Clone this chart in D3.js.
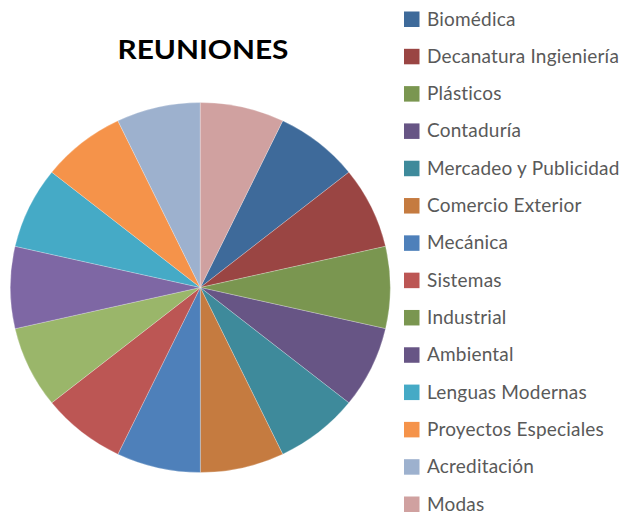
<!DOCTYPE html>
<html>
<head>
<meta charset="utf-8">
<script src="https://cdn.jsdelivr.net/npm/d3@7"></script>
<style>
  body { margin: 0; background: #fff; }
  svg { display: block; }
</style>
</head>
<body>
<div class="chart"></div>
<script>
// data
const categories = ["Biomédica", "Decanatura Ingieniería", "Plásticos", "Contaduría",
  "Mercadeo y Publicidad", "Comercio Exterior", "Mecánica", "Sistemas", "Industrial",
  "Ambiental", "Lenguas Modernas", "Proyectos Especiales", "Acreditación", "Modas"];
const values = [1, 1, 1, 1, 1, 1, 1, 1, 1, 1, 1, 1, 1, 1];
const title = "REUNIONES";

const sliceColors = ["#3E6A9A", "#9A4543", "#7A9650", "#675585", "#3E8A9B", "#C57B40",
  "#4E80BA", "#BC5654", "#9AB66A", "#7E67A4", "#45AAC6", "#F5934A", "#9DB1CE", "#D0A1A0"];
const legendColors = ["#3E6A9A", "#9A4543", "#7A9650", "#675585", "#3E8A9B", "#C57B40",
  "#4E80BA", "#BC5654", "#7A9650", "#675585", "#45AAC6", "#F5934A", "#9DB1CE", "#D0A1A0"];

const width = 628, height = 514;
const cx = 200.3, cy = 287.5;
const rx = 190, ry = 185;

const svg = d3.select(".chart").append("svg")
  .attr("width", width)
  .attr("height", height);

svg.append("text")
  .attr("x", 203)
  .attr("y", 58.5)
  .attr("text-anchor", "middle")
  .attr("textLength", 171)
  .attr("lengthAdjust", "spacingAndGlyphs")
  .style("font-family", "Lato, 'Open Sans', sans-serif")
  .style("font-weight", "bold")
  .style("font-size", "26.5px")
  .style("fill", "#000")
  .text(title);

// Excel starts this pie one slice in, so Modas ends up at 12 o'clock
const step = 2 * Math.PI / values.length;
const pie = d3.pie().sort(null).value(d => d)
  .startAngle(step).endAngle(2 * Math.PI + step);

const arc = d3.arc().innerRadius(0).outerRadius(rx);

const g = svg.append("g")
  .attr("transform", `translate(${cx},${cy}) scale(1,${ry / rx})`);

g.selectAll("path")
  .data(pie(values))
  .enter()
  .append("path")
  .attr("d", arc)
  .attr("fill", (d, i) => sliceColors[i])
  .attr("stroke", "#fff")
  .attr("stroke-width", 0.4)
  .attr("stroke-opacity", 0.6);

const ly = d3.scalePoint().domain(categories).range([19, 504]);

const legend = svg.append("g");
const item = legend.selectAll("g")
  .data(categories)
  .enter()
  .append("g")
  .attr("transform", d => `translate(0,${ly(d)})`);

item.append("rect")
  .attr("x", 404)
  .attr("y", -7.5)
  .attr("width", 15.5)
  .attr("height", 15.5)
  .attr("fill", (d, i) => legendColors[i]);

item.append("text")
  .attr("x", 427)
  .attr("y", 6.5)
  .style("font-family", "Lato, 'Open Sans', sans-serif")
  .style("font-size", "19px")
  .style("letter-spacing", "0.2px")
  .style("fill", "#595959")
  .text(d => d);
</script>
</body>
</html>
